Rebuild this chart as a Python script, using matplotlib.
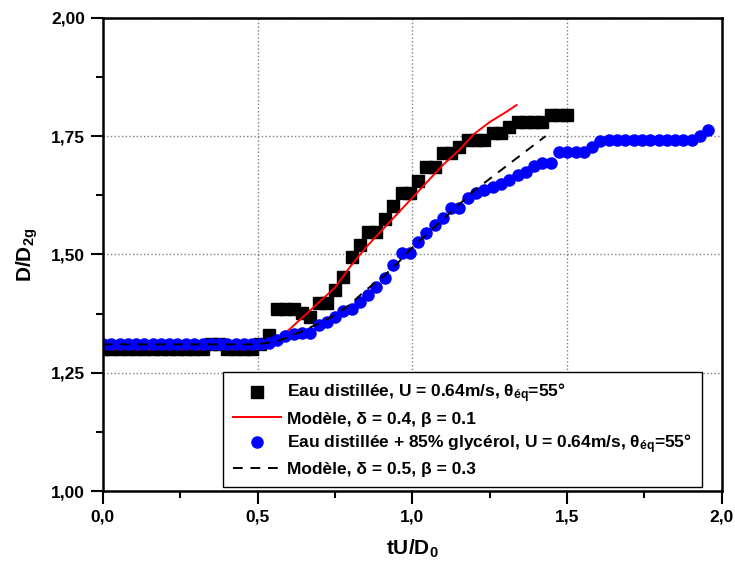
import matplotlib
matplotlib.use('Agg')
import matplotlib.pyplot as plt
from matplotlib.ticker import MultipleLocator, FuncFormatter

plt.rcParams['font.family'] = ['Liberation Sans', 'DejaVu Sans']
plt.rcParams['mathtext.fontset'] = 'custom'
plt.rcParams['mathtext.rm'] = 'Liberation Sans'
plt.rcParams['mathtext.bf'] = 'Liberation Sans:bold'
plt.rcParams['mathtext.it'] = 'Liberation Sans:italic'

# eau distillée (carrés noirs)
x_eau = [0.000, 0.027, 0.054, 0.080, 0.107, 0.134, 0.161, 0.188, 0.214, 0.241,
         0.268, 0.295, 0.322, 0.348, 0.375, 0.402, 0.429, 0.456, 0.482, 0.509,
         0.536, 0.563, 0.590, 0.616, 0.643, 0.670, 0.697, 0.724, 0.750, 0.777,
         0.804, 0.831, 0.858, 0.884, 0.911, 0.938, 0.965, 0.992, 1.018, 1.045,
         1.072, 1.099, 1.126, 1.152, 1.179, 1.206, 1.233, 1.260, 1.286, 1.313,
         1.340, 1.367, 1.394, 1.420, 1.447, 1.474, 1.501]
y_eau = [1.300, 1.300, 1.300, 1.300, 1.300, 1.300, 1.300, 1.300, 1.300, 1.300,
         1.300, 1.300, 1.300, 1.310, 1.310, 1.300, 1.300, 1.300, 1.300, 1.310,
         1.330, 1.385, 1.385, 1.385, 1.376, 1.368, 1.397, 1.397, 1.425, 1.452,
         1.495, 1.520, 1.548, 1.548, 1.575, 1.603, 1.630, 1.630, 1.655, 1.685,
         1.685, 1.715, 1.715, 1.727, 1.742, 1.742, 1.742, 1.757, 1.757, 1.770,
         1.780, 1.780, 1.780, 1.780, 1.795, 1.795, 1.795]

# eau + 85% glycérol (ronds bleus)
x_gly = [0.000, 0.027, 0.054, 0.080, 0.107, 0.134, 0.161, 0.188, 0.214, 0.241,
         0.268, 0.295, 0.322, 0.348, 0.375, 0.402, 0.429, 0.456, 0.482, 0.509,
         0.536, 0.563, 0.590, 0.616, 0.643, 0.670, 0.697, 0.724, 0.750, 0.777,
         0.804, 0.831, 0.858, 0.884, 0.911, 0.938, 0.965, 0.992, 1.018, 1.045,
         1.072, 1.099, 1.126, 1.152, 1.179, 1.206, 1.233, 1.260, 1.286, 1.313,
         1.340, 1.367, 1.394, 1.420, 1.447, 1.474, 1.501, 1.528, 1.554, 1.581,
         1.608, 1.635, 1.662, 1.688, 1.715, 1.742, 1.769, 1.796, 1.822, 1.849,
         1.876, 1.903, 1.930, 1.956]
y_gly = [1.310, 1.310, 1.310, 1.310, 1.310, 1.310, 1.310, 1.310, 1.310, 1.310,
         1.310, 1.310, 1.310, 1.310, 1.310, 1.310, 1.310, 1.310, 1.310, 1.310,
         1.313, 1.319, 1.328, 1.332, 1.334, 1.334, 1.350, 1.357, 1.368, 1.380,
         1.385, 1.400, 1.415, 1.432, 1.450, 1.478, 1.503, 1.503, 1.527, 1.545,
         1.562, 1.577, 1.598, 1.598, 1.620, 1.630, 1.636, 1.643, 1.648, 1.657,
         1.668, 1.675, 1.688, 1.693, 1.693, 1.717, 1.717, 1.717, 1.717, 1.728,
         1.740, 1.742, 1.742, 1.742, 1.742, 1.742, 1.742, 1.742, 1.742, 1.742,
         1.742, 1.742, 1.750, 1.763]

# modèle delta = 0.4, beta = 0.1
x_mod1 = [0.00, 0.50, 0.55, 0.60, 0.65, 0.70, 0.75, 0.80, 0.85, 0.90, 0.95,
          1.00, 1.05, 1.10, 1.15, 1.20, 1.25, 1.30, 1.337]
y_mod1 = [1.300, 1.300, 1.315, 1.340, 1.370, 1.400, 1.430, 1.475, 1.515, 1.550,
          1.585, 1.620, 1.655, 1.690, 1.720, 1.755, 1.780, 1.800, 1.816]

# modèle delta = 0.5, beta = 0.3
x_mod2 = [0.00, 0.50, 0.55, 0.60, 0.65, 0.70, 0.75, 0.80, 0.85, 0.90, 0.95,
          1.00, 1.05, 1.10, 1.15, 1.20, 1.25, 1.30, 1.35, 1.40, 1.43]
y_mod2 = [1.310, 1.310, 1.315, 1.325, 1.340, 1.355, 1.372, 1.395, 1.425, 1.450,
          1.480, 1.515, 1.545, 1.575, 1.605, 1.635, 1.660, 1.685, 1.710, 1.735,
          1.750]

fig = plt.figure(figsize=(7.35, 5.73), dpi=100)
ax = fig.add_axes([0.140, 0.1431, 0.842, 0.8255])

ax.plot(x_eau, y_eau, 's', color='black', ms=8,
        label='Eau distillée, U = 0.64m/s, θ$_{\\mathbf{éq}}$=55°')
ax.plot(x_mod1, y_mod1, '-', color='red', lw=1.4,
        label='Modèle, δ = 0.4, β = 0.1')
ax.plot(x_gly, y_gly, 'o', color='#0000ff', ms=8,
        label='Eau distillée + 85% glycérol, U = 0.64m/s, θ$_{\\mathbf{éq}}$=55°')
ax.plot(x_mod2, y_mod2, '--', color='black', lw=1.4, dashes=(5, 4),
        label='Modèle, δ = 0.5, β = 0.3')

ax.set_xlim(0, 2)
ax.set_ylim(1, 2)
ax.xaxis.set_major_locator(MultipleLocator(0.5))
ax.xaxis.set_minor_locator(MultipleLocator(0.25))
ax.yaxis.set_major_locator(MultipleLocator(0.25))
ax.yaxis.set_minor_locator(MultipleLocator(0.125))
ax.xaxis.set_major_formatter(FuncFormatter(lambda v, p: f'{v:.1f}'.replace('.', ',')))
ax.yaxis.set_major_formatter(FuncFormatter(lambda v, p: f'{v:.2f}'.replace('.', ',')))

ax.tick_params(which='major', direction='out', length=9, width=1.5, labelsize=12.5, pad=4)
ax.tick_params(which='minor', direction='out', length=5, width=1.5)
for lab in ax.get_xticklabels() + ax.get_yticklabels():
    lab.set_fontweight('bold')
for sp in ax.spines.values():
    sp.set_linewidth(1.8)

ax.grid(True, which='major', linestyle=':', color='gray', linewidth=1)

ax.set_xlabel('tU/D$_{\\mathbf{0}}$', fontsize=15, fontweight='bold', labelpad=10)
ax.set_ylabel('D/D$_{\\mathbf{2g}}$', fontsize=15, fontweight='bold', labelpad=8)

leg = ax.legend(loc='lower left', bbox_to_anchor=(0.194, 0.0085), borderaxespad=0,
                prop={'weight': 'bold', 'size': 12.5}, fancybox=False, framealpha=1,
                edgecolor='black', handlelength=2.8, handletextpad=0.35,
                labelspacing=0.35, borderpad=0.55)
leg.get_frame().set_linewidth(1)

plt.savefig('out.png', dpi=100)
plt.close()
